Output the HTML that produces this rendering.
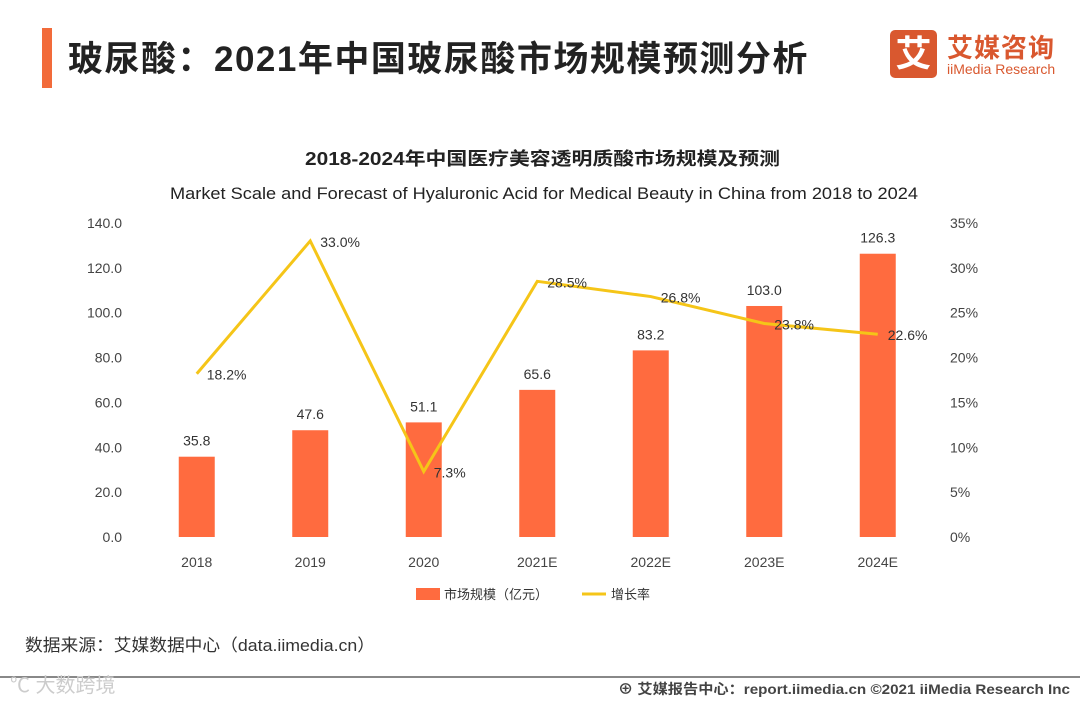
<!DOCTYPE html>
<html><head><meta charset="utf-8"><style>
body{margin:0;width:1080px;height:702px;background:#fff;position:relative;overflow:hidden;font-family:"Liberation Sans","Noto Sans CJK SC",sans-serif;}
.abs{position:absolute;}
</style></head><body>
<div class="abs" style="left:42px;top:28px;width:10px;height:60px;background:#f26b3a"></div>
<div class="abs" style="left:68px;top:31px;font-size:35px;font-weight:bold;color:#222;white-space:nowrap;letter-spacing:1.5px;font-family:'Liberation Sans','Noto Sans CJK SC',sans-serif">玻尿酸：2021年中国玻尿酸市场规模预测分析</div>
<div class="abs" style="left:890px;top:30px;width:47px;height:48px;background:#d9582f;border-radius:5px;color:#fff;font-size:36px;font-weight:bold;text-align:center;line-height:48px">艾</div>
<div class="abs" style="left:947px;top:28px;font-size:26px;font-weight:bold;color:#d9582f;white-space:nowrap;letter-spacing:1px">艾媒咨询</div>
<div class="abs" style="left:947px;top:61px;font-size:14px;color:#d9582f;white-space:nowrap">iiMedia Research</div>
<svg class="abs" style="left:0;top:0" width="1080" height="702" id="chart">
<text x="305" y="165" textLength="475" lengthAdjust="spacingAndGlyphs" font-size="18" font-weight="bold" fill="#222">2018-2024年中国医疗美容透明质酸市场规模及预测</text>
<text x="170" y="199" textLength="748" lengthAdjust="spacingAndGlyphs" font-size="17" fill="#222">Market Scale and Forecast of Hyaluronic Acid for Medical Beauty in China from 2018 to 2024</text>
<g id="g"></g>
<rect x="416" y="588" width="24" height="12" fill="#ff6b3f"/>
<text x="444" y="599" font-size="13" fill="#333">市场规模（亿元）</text>
<line x1="582" y1="594" x2="606" y2="594" stroke="#f5c518" stroke-width="3"/>
<text x="611" y="599" font-size="13" fill="#333">增长率</text>
<text x="25" y="651" textLength="350" lengthAdjust="spacingAndGlyphs" font-size="17" fill="#333">数据来源：艾媒数据中心（data.iimedia.cn）</text>
<line x1="0" y1="677" x2="1080" y2="677" stroke="#888" stroke-width="2"/>
<text x="10" y="692" font-size="20" fill="#ccc">℃ 大数跨境</text>
<text x="618" y="694" textLength="452" lengthAdjust="spacingAndGlyphs" font-size="14" font-weight="bold" fill="#444">⊕ 艾媒报告中心：report.iimedia.cn   ©2021  iiMedia Research  Inc</text>
</svg>
<script>
const categories=["2018","2019","2020","2021E","2022E","2023E","2024E"];
const marketSize=[35.8,47.6,51.1,65.6,83.2,103.0,126.3];
const growthRate=[18.2,33.0,7.3,28.5,26.8,23.8,22.6];
const leftTicks=[0,20,40,60,80,100,120,140];
const rightTicks=[0,5,10,15,20,25,30,35];
const NS="http://www.w3.org/2000/svg";
const g=document.getElementById('g');
const y0=537,y1=223,xL=140,step=113.5;
const yL=v=>y0-(v/140)*(y0-y1);
const yR=v=>y0-(v/35)*(y0-y1);
const xC=i=>xL+step*(i+0.5);
function mk(t,a){const e=document.createElementNS(NS,t);for(const k in a)e.setAttribute(k,a[k]);g.appendChild(e);return e;}
leftTicks.forEach(v=>{const t=mk('text',{x:122,y:yL(v)+5,'text-anchor':'end','font-size':14,fill:'#444'});t.textContent=v.toFixed(1);

});
rightTicks.forEach(v=>{const t=mk('text',{x:950,y:yR(v)+5,'font-size':14,fill:'#444'});t.textContent=v+'%';

});
categories.forEach((c,i)=>{const t=mk('text',{x:xC(i),y:567,'text-anchor':'middle','font-size':14,fill:'#444'});t.textContent=c;

});
marketSize.forEach((v,i)=>{const r=mk('rect',{x:xC(i)-18,y:yL(v),width:36,height:y0-yL(v),fill:'#ff6b3f'});


const t=mk('text',{x:xC(i),y:yL(v)-11,'text-anchor':'middle','font-size':14,fill:'#333'});t.textContent=v.toFixed(1);

});
const pts=growthRate.map((v,i)=>xC(i)+','+yR(v)).join(' ');
const pl=mk('polyline',{points:pts,fill:'none',stroke:'#f5c518','stroke-width':3,'stroke-linejoin':'miter'});


growthRate.forEach((v,i)=>{const t=mk('text',{x:xC(i)+10,y:yR(v)+6,'font-size':14,fill:'#333'});t.textContent=v.toFixed(1)+'%';

});
</script>
</body></html>
